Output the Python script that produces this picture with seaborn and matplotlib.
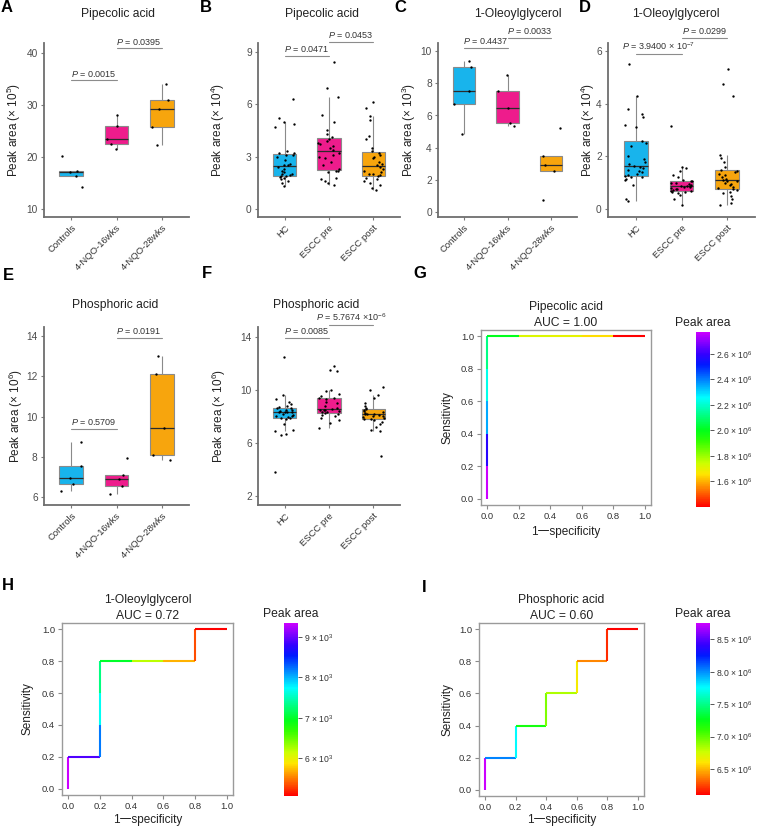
import numpy as np
import pandas as pd
import matplotlib
matplotlib.use("Agg")
import matplotlib.pyplot as plt
import matplotlib.cm as cm
import seaborn as sns
from matplotlib.collections import LineCollection
from matplotlib.colors import LinearSegmentedColormap, Normalize, hsv_to_rgb
from matplotlib.ticker import FuncFormatter

np.random.seed(7)

# ---------------- data ----------------
mouse_groups = ["Controls", "4-NQO-16wks", "4-NQO-28wks"]
human_groups = ["HC", "ESCC pre", "ESCC post"]
box_colors = ["#18B4EC", "#EE1C8C", "#F7A50D"]

# A  Pipecolic acid, mouse (x 10^5)
pip_ctrl = [20.2, 17.3, 17.1, 16.4, 14.2]
pip_16w = [28.1, 26.1, 23.6, 22.5, 21.5]
pip_28w = [34.2, 31.1, 29.2, 25.8, 22.3]

# B  Pipecolic acid, human (x 10^4)
pip_hc = [6.3, 5.2, 5.0, 4.85, 4.7, 3.3, 3.2, 3.2, 3.1, 3.1, 3.0, 2.8, 2.6, 2.5, 2.5,
          2.4, 2.3, 2.2, 2.1, 2.0, 2.0, 1.95, 1.9, 1.9, 1.85, 1.8, 1.7, 1.6, 1.5, 1.3]
pip_pre = [8.4, 6.9, 6.4, 5.4, 5.0, 4.5, 4.3, 4.1, 4.0, 3.9, 3.8, 3.7, 3.6, 3.5, 3.4,
           3.2, 3.1, 3.0, 2.9, 2.7, 2.5, 2.3, 2.2, 2.2, 2.1, 1.8, 1.7, 1.6, 1.5, 1.4]
pip_post = [6.1, 5.8, 5.3, 5.1, 4.2, 4.0, 3.5, 3.3, 3.2, 3.1, 3.0, 2.9, 2.7, 2.6, 2.5,
            2.4, 2.3, 2.2, 2.1, 2.0, 2.0, 1.95, 1.9, 1.8, 1.7, 1.6, 1.5, 1.4, 1.2, 1.1]

# C  1-Oleoylglycerol, mouse (x 10^3)
olg_ctrl = [9.36, 9.0, 7.5, 6.7, 4.86]
olg_16w = [8.53, 7.5, 6.45, 5.56, 5.35]
olg_28w = [5.22, 3.48, 2.9, 2.57, 0.76]

# D  1-Oleoylglycerol, human (x 10^4)
olg_hc = [5.5, 4.3, 3.8, 3.6, 3.5, 3.2, 3.1, 2.6, 2.5, 2.4, 2.0, 1.9, 1.8, 1.7, 1.65,
          1.6, 1.55, 1.5, 1.45, 1.4, 1.35, 1.3, 1.25, 1.2, 1.2, 1.15, 1.1, 0.9, 0.4, 0.3]
olg_pre = [3.15, 1.6, 1.55, 1.45, 1.3, 1.2, 1.1, 1.08, 1.05, 1.0, 0.98, 0.95, 0.9, 0.88, 0.87,
           0.86, 0.85, 0.82, 0.8, 0.78, 0.75, 0.72, 0.7, 0.68, 0.66, 0.64, 0.6, 0.55, 0.4, 0.17]
olg_post = [5.3, 4.75, 4.3, 2.05, 1.95, 1.8, 1.6, 1.5, 1.45, 1.4, 1.35, 1.3, 1.2, 1.15, 1.1,
            1.08, 1.05, 1.0, 0.95, 0.9, 0.85, 0.8, 0.75, 0.72, 0.65, 0.6, 0.5, 0.4, 0.25, 0.15]

# E  Phosphoric acid, mouse (x 10^6)
pho_ctrl = [8.72, 7.52, 6.92, 6.65, 6.3]
pho_16w = [7.93, 7.07, 6.9, 6.52, 6.15]
pho_28w = [13.0, 12.1, 9.42, 8.1, 7.85]

# F  Phosphoric acid, human (x 10^6)
pho_hc = [12.5, 9.6, 9.3, 9.1, 8.9, 8.8, 8.7, 8.65, 8.6, 8.5, 8.45, 8.4, 8.35, 8.3, 8.3,
          8.3, 8.2, 8.1, 8.05, 8.0, 7.95, 7.9, 7.85, 7.8, 7.4, 7.0, 6.9, 6.7, 6.6, 3.8]
pho_pre = [11.8, 11.5, 11.4, 10.0, 9.9, 9.7, 9.5, 9.4, 9.35, 9.3, 9.1, 9.0, 8.8, 8.6, 8.55,
           8.5, 8.5, 8.45, 8.4, 8.35, 8.3, 8.25, 8.2, 8.1, 8.0, 7.9, 7.7, 7.5, 7.1]
pho_post = [10.2, 10.0, 9.6, 9.4, 9.0, 8.8, 8.6, 8.55, 8.5, 8.4, 8.3, 8.25, 8.2, 8.2, 8.15,
            8.1, 8.05, 8.0, 7.95, 7.9, 7.8, 7.8, 7.75, 7.6, 7.4, 7.2, 7.0, 6.9, 5.0]

# p-values
p_a = ["0.0015", "0.0395"]
p_b = ["0.0471", "0.0453"]
p_c = ["0.4437", "0.0033"]
p_d = ["3.9400 × $10^{-7}$", "0.0299"]
p_e = ["0.5709", "0.0191"]
p_f = ["0.0085", "5.7674 ×$10^{-6}$"]

# ROC curves (1-specificity, sensitivity, peak-area cut-off for each step)
roc_g_fpr = [0, 0, 0, 0, 0, 0, 0.2, 0.4, 0.6, 0.8, 1.0]
roc_g_tpr = [0, 0.2, 0.4, 0.6, 0.8, 1.0, 1.0, 1.0, 1.0, 1.0, 1.0]
roc_g_thr = [2.77e6, 2.58e6, 2.35e6, 2.23e6, 2.12e6, 2.00e6, 1.72e6, 1.70e6, 1.65e6, 1.40e6]

roc_h_fpr = [0, 0, 0.2, 0.2, 0.2, 0.2, 0.4, 0.6, 0.8, 0.8, 1.0]
roc_h_tpr = [0, 0.2, 0.2, 0.4, 0.6, 0.8, 0.8, 0.8, 0.8, 1.0, 1.0]
roc_h_thr = [9.34e3, 8.9e3, 8.2e3, 7.7e3, 7.3e3, 7.0e3, 6.2e3, 5.7e3, 5.35e3, 5.07e3]

roc_i_fpr = [0, 0, 0.2, 0.2, 0.4, 0.4, 0.6, 0.6, 0.8, 0.8, 1.0]
roc_i_tpr = [0, 0.2, 0.2, 0.4, 0.4, 0.6, 0.6, 0.8, 0.8, 1.0, 1.0]
roc_i_thr = [8.75e6, 8.02e6, 7.76e6, 7.19e6, 6.93e6, 6.83e6, 6.63e6, 6.40e6, 6.20e6, 6.10e6]

# ---------------- style ----------------
sns.set_theme(style="ticks")
plt.rcParams["font.family"] = ["Liberation Sans", "Noto Sans CJK SC"]
plt.rcParams["mathtext.fontset"] = "custom"
plt.rcParams["mathtext.rm"] = "Liberation Sans"
plt.rcParams["mathtext.it"] = "Liberation Sans:italic"
plt.rcParams["mathtext.bf"] = "Liberation Sans:bold"

roc_cmap = LinearSegmentedColormap.from_list(
    "rainbow08", [hsv_to_rgb((h, 1, 1)) for h in np.linspace(0, 0.8, 17)])

W, H = 758, 827
fig = plt.figure(figsize=(W / 100, H / 100), dpi=100)


def rect(l, t, r, b):
    return [l / W, 1 - b / H, (r - l) / W, (b - t) / H]


def ftext(x, y, s, **kw):
    fig.text(x / W, 1 - y / H, s, ha="center", va="center", **kw)


def box_panel(pos, groups, series, ylim, yticks, exp, label_x, brackets):
    l, t, r, b = pos
    ax = fig.add_axes(rect(*pos))
    df = pd.DataFrame({
        "group": [g for g, s in zip(groups, series) for _ in s],
        "value": [v for s in series for v in s],
    })
    sns.boxplot(data=df, x="group", y="value", hue="group", order=groups,
                hue_order=groups, palette=box_colors, saturation=1, width=0.52,
                linewidth=0.8, linecolor="#8a8a8a", showfliers=False, showcaps=False,
                medianprops={"color": "#2b2b2b", "linewidth": 0.9},
                legend=False, ax=ax)
    sns.stripplot(data=df, x="group", y="value", order=groups, color="black",
                  size=1.7, jitter=0.24, ax=ax)
    ax.set_xlim(-0.6, 2.6)
    ax.set_ylim(*ylim)
    ax.set_yticks(yticks)
    ax.set_xticks(range(len(groups)))
    ax.set_xticklabels(groups, rotation=45, ha="right", va="top",
                       rotation_mode="anchor", fontsize=6.8, color="#333333")
    ax.tick_params(axis="y", labelsize=7.3, labelcolor="#4d4d4d")
    ax.tick_params(length=2.5, width=0.8, color="#7a7a7a", pad=2)
    ax.set_xlabel("")
    ax.set_ylabel(f"Peak area (× $10^{{{exp}}}$)", fontsize=8.5, color="#222222")
    ax.yaxis.set_label_coords((label_x + 6 - l) / (r - l), 0.5)
    sns.despine(ax=ax)
    for side in ("left", "bottom"):
        ax.spines[side].set_color("#6e6e6e")
        ax.spines[side].set_linewidth(1.3)
    for (i, j, y, txt) in brackets:
        ax.plot([i, j], [y, y], color="#8c8c8c", lw=0.8, clip_on=False)
        ax.annotate(f"$\\mathit{{P}}$ = {txt}", xy=((i + j) / 2, y), xytext=(0, 1.2),
                    textcoords="offset points", ha="center", va="bottom",
                    fontsize=6.5, color="#333333", annotation_clip=False)
    return ax


def roc_panel(pos, cpos, fpr, tpr, thr, title, auc, cticks, cexp, cfmt, label_x, xlab_y):
    l, t, r, b = pos
    ax = fig.add_axes(rect(*pos))
    pts = np.column_stack([fpr, tpr])
    segs = np.stack([pts[:-1], pts[1:]], axis=1)
    norm = Normalize(vmin=min(thr), vmax=max(thr))
    lc = LineCollection(segs, cmap=roc_cmap, norm=norm, linewidths=1.5)
    lc.set_array(np.asarray(thr))
    ax.add_collection(lc)
    ax.set_xlim(-0.04, 1.04)
    ax.set_ylim(-0.04, 1.04)
    ticks = [0, 0.2, 0.4, 0.6, 0.8, 1.0]
    ax.set_xticks(ticks)
    ax.set_yticks(ticks)
    fmt = FuncFormatter(lambda v, p: f"{v:.1f}")
    ax.xaxis.set_major_formatter(fmt)
    ax.yaxis.set_major_formatter(fmt)
    ax.tick_params(labelsize=6.8, labelcolor="#333333", length=3, width=0.8,
                   color="#8a8a8a", pad=2)
    for s in ax.spines.values():
        s.set_color("#9a9a9a")
        s.set_linewidth(1.0)
    ax.set_ylabel("Sensitivity", fontsize=8.5, color="#222222")
    ax.yaxis.set_label_coords((label_x + 6 - l) / (r - l), 0.5)
    ax.set_xlabel("1一specificity", fontsize=8.5, color="#222222")
    ax.xaxis.set_label_coords(0.5, -(xlab_y - 6 - b) / (b - t))
    ax.text(0.5, 1.006, f"{title}\nAUC = {auc}", transform=ax.transAxes, ha="center",
            va="bottom", fontsize=8.7, linespacing=1.45, color="#222222")

    cax = fig.add_axes(rect(*cpos))
    cb = fig.colorbar(cm.ScalarMappable(norm=norm, cmap=roc_cmap), cax=cax)
    cb.outline.set_visible(False)
    cb.set_ticks(cticks)
    cb.ax.yaxis.set_major_formatter(
        FuncFormatter(lambda v, p: cfmt.format(v / 10 ** cexp) + f" × $10^{{{cexp}}}$"))
    cax.tick_params(labelsize=6.2, labelcolor="#333333", length=3, width=0.7,
                    color="#555555", pad=1.5)
    cax.set_title("Peak area", fontsize=8.7, pad=4, color="#222222")
    return ax


# ---------------- box panels ----------------
box_panel((44, 43, 189, 217), mouse_groups, [pip_ctrl, pip_16w, pip_28w],
          (8.5, 42), [10, 20, 30, 40], 5, 17,
          [(0, 1, 34.8, p_a[0]), (1, 2, 41.0, p_a[1])])
box_panel((258, 43, 400, 217), human_groups, [pip_hc, pip_pre, pip_post],
          (-0.45, 9.5), [0, 3, 6, 9], 4, 221,
          [(0, 1, 8.77, p_b[0]), (1, 2, 9.58, p_b[1])])
box_panel((438, 43, 577, 217), mouse_groups, [olg_ctrl, olg_16w, olg_28w],
          (-0.3, 10.5), [0, 2, 4, 6, 8, 10], 3, 412,
          [(0, 1, 10.19, p_c[0]), (1, 2, 10.83, p_c[1])])
box_panel((608, 43, 755, 217), human_groups, [olg_hc, olg_pre, olg_post],
          (-0.3, 6.3), [0, 2, 4, 6], 4, 591,
          [(0, 1, 5.89, p_d[0]), (1, 2, 6.49, p_d[1])])
box_panel((44, 327, 189, 505), mouse_groups, [pho_ctrl, pho_16w, pho_28w],
          (5.6, 14.45), [6, 8, 10, 12, 14], 6, 19,
          [(0, 1, 9.38, p_e[0]), (1, 2, 13.9, p_e[1])])
box_panel((258, 327, 400, 505), human_groups, [pho_hc, pho_pre, pho_post],
          (1.3, 14.75), [2, 6, 10, 14], 6, 222,
          [(0, 1, 13.92, p_f[0]), (1, 2, 14.9, p_f[1])])

# ---------------- ROC panels ----------------
roc_panel((481, 330, 651, 505), (696, 332, 710, 507), roc_g_fpr, roc_g_tpr, roc_g_thr,
          "Pipecolic acid", "1.00", [1.6e6, 1.8e6, 2.0e6, 2.2e6, 2.4e6, 2.6e6], 6,
          "{:.1f}", 448, 532)
roc_panel((62, 623, 233, 795), (284, 623, 298, 796), roc_h_fpr, roc_h_tpr, roc_h_thr,
          "1-Oleoylglycerol", "0.72", [6e3, 7e3, 8e3, 9e3], 3,
          "{:.0f}", 28, 820)
roc_panel((479, 623, 644, 796), (696, 623, 710, 795), roc_i_fpr, roc_i_tpr, roc_i_thr,
          "Phosphoric acid", "0.60", [6.5e6, 7.0e6, 7.5e6, 8.0e6, 8.5e6], 6,
          "{:.1f}", 448, 820)

# ---------------- titles and panel letters ----------------
for x, y, s in [(118, 14, "Pipecolic acid"), (322, 14, "Pipecolic acid"),
                (518, 14, "1-Oleoylglycerol"), (676, 14, "1-Oleoylglycerol"),
                (115, 305, "Phosphoric acid"), (316, 305, "Phosphoric acid")]:
    ftext(x, y, s, fontsize=8.7, color="#222222")

for x, y, s in [(7, 8, "A"), (206, 8, "B"), (400, 8, "C"), (585, 8, "D"),
                (8, 275, "E"), (207, 274, "F"), (420, 274, "G"),
                (8, 586, "H"), (424, 587, "I")]:
    ftext(x, y, s, fontsize=12, fontweight="bold", color="black")

fig.savefig("out.png", dpi=100)
